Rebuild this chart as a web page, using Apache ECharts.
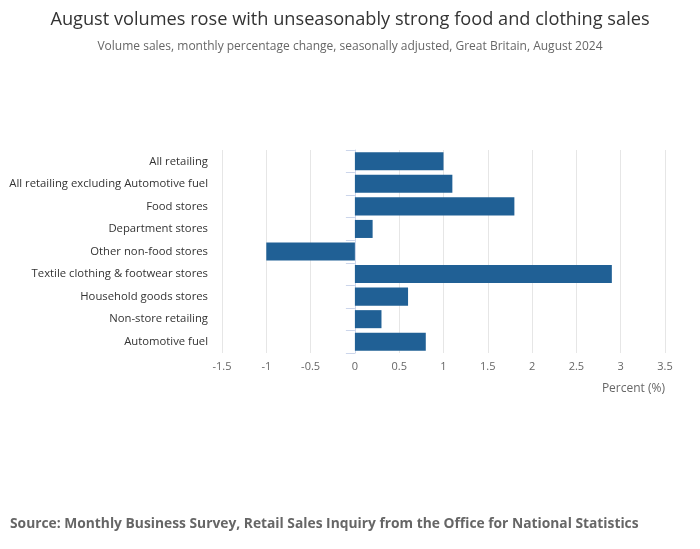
<!DOCTYPE html>
<html><head><meta charset="utf-8">
<script src="https://cdn.jsdelivr.net/npm/echarts@6/dist/echarts.min.js"></script>
<style>html,body{margin:0;padding:0;background:#fff}#c{width:700px;height:549px}</style>
</head><body><div id="c"></div>
<script>
const categories = ["All retailing","All retailing excluding Automotive fuel","Food stores","Department stores","Other non-food stores","Textile clothing & footwear stores","Household goods stores","Non-store retailing","Automotive fuel"];
const values = [1.0, 1.1, 1.8, 0.2, -1.0, 2.9, 0.6, 0.3, 0.8];
const xTicks = {min: -1.5, max: 3.5, interval: 0.5};

const chart = echarts.init(document.getElementById('c'));
const font = '"Open Sans", "Noto Sans", sans-serif';
chart.setOption({
  animation: false,
  textStyle: {fontFamily: font},
  title: [
    {text: 'August volumes rose with unseasonably strong food and clothing sales', left: 'center', top: 6,
     textStyle: {fontFamily: font, fontSize: 18.2, fontWeight: 'normal', color: '#333'}},
    {text: 'Volume sales, monthly percentage change, seasonally adjusted, Great Britain, August 2024', left: 'center', top: 36,
     textStyle: {fontFamily: font, fontSize: 12, fontWeight: 'normal', color: '#666'}},
    {text: 'Source: Monthly Business Survey, Retail Sales Inquiry from the Office for National Statistics', left: 5, top: 512,
     textStyle: {fontFamily: font, fontSize: 13.8, fontWeight: 'bold', color: '#666'}}
  ],
  grid: {left: 222, right: 35, top: 150, bottom: 196, containLabel: false},
  xAxis: {
    type: 'value', min: xTicks.min, max: xTicks.max, interval: xTicks.interval,
    axisLine: {show: false}, axisTick: {show: false},
    splitLine: {lineStyle: {color: '#e6e6e6'}},
    axisLabel: {color: '#666', fontSize: 11, margin: 8, fontFamily: font},
    name: 'Percent (%)', nameLocation: 'end', nameGap: 0,
    nameTextStyle: {color: '#666', fontSize: 12, align: 'right', verticalAlign: 'top', padding: [30, 0, 0, 0], fontFamily: font}
  },
  yAxis: {
    type: 'category', data: categories, inverse: true,
    axisLine: {show: true, lineStyle: {color: '#ccd6eb'}},
    axisTick: {show: true, length: 9, lineStyle: {color: '#ccd6eb'}},
    axisLabel: {color: '#333', fontSize: 11.3, margin: 14, fontFamily: font},
    splitLine: {show: false}
  },
  series: [{
    type: 'bar', data: values, barCategoryGap: '20%',
    itemStyle: {color: '#206095'}
  }]
});
</script></body></html>
